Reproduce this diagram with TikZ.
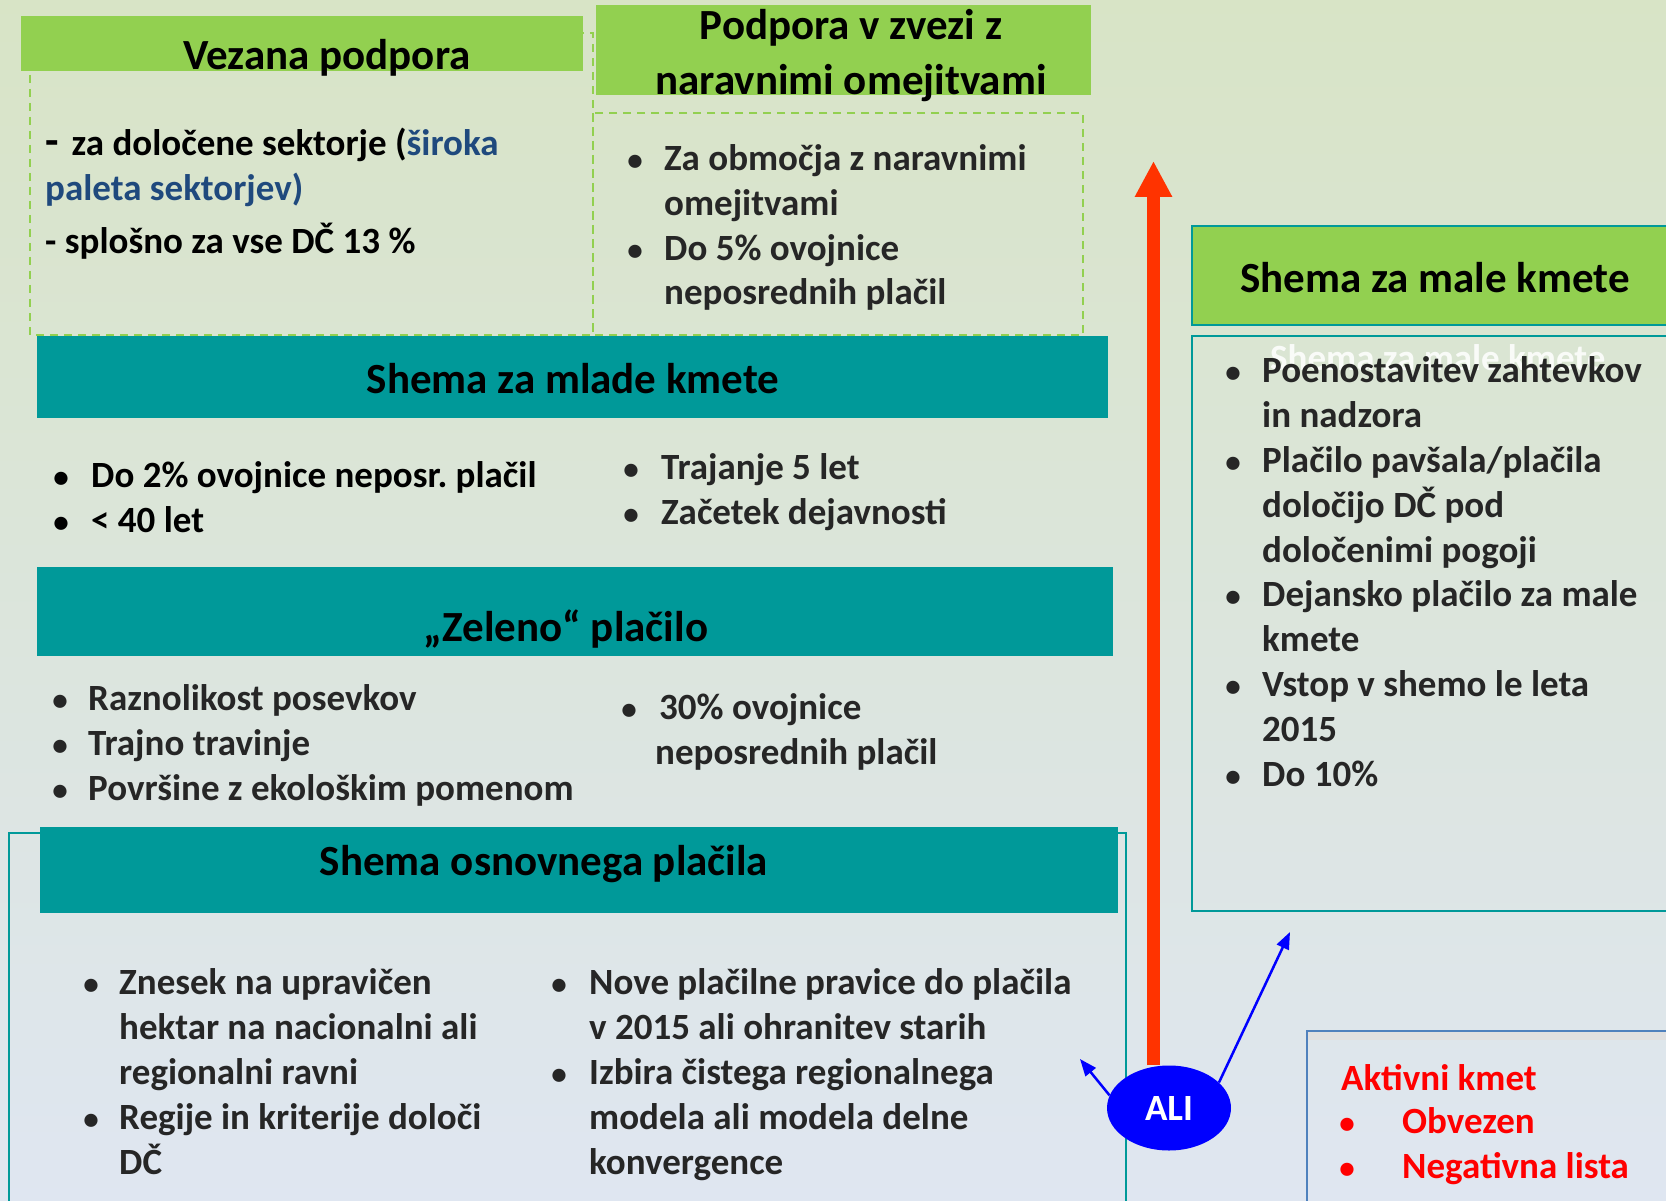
\documentclass[tikz,border=0pt]{standalone}
\usepackage{fontspec}
\setmainfont{Carlito}
\usetikzlibrary{arrows.meta,shapes.geometric}

\definecolor{barGreen}{RGB}{146,208,80}
\definecolor{barTeal}{RGB}{0,153,153}
\definecolor{arrowRed}{RGB}{255,51,0}
\definecolor{txtGray}{RGB}{38,38,38}
\definecolor{txtBlue}{RGB}{31,73,125}
\definecolor{bgTop}{RGB}{216,228,198}
\definecolor{bgBot}{RGB}{223,230,241}
\definecolor{aktBlue}{RGB}{79,129,189}

\newcommand\bodyfont{\fontsize{37}{44.8}\selectfont\bfseries}
\newcommand\headfont{\fontsize{43}{55}\selectfont\bfseries}
\newcommand\bul[1][29pt]{\makebox[0pt][c]{\fontsize{31}{31}\selectfont•}\hspace{#1}\ignorespaces}
\newcommand\cont[1][29pt]{\hspace*{#1}\ignorespaces}

\tikzset{
  body/.style={font=\bodyfont, text=txtGray, anchor=base west, align=left, inner sep=0pt, yshift=-3pt},
  head/.style={font=\headfont, text=black, anchor=base, align=center, inner sep=0pt, yshift=-3pt},
  dashbox/.style={draw=barGreen, line width=1.5pt, dash pattern=on 8pt off 6pt},
}

\begin{document}
\begin{tikzpicture}[x=1pt,y=-1pt]
  \useasboundingbox (0,0) rectangle (1666,1201);
  \clip (0,0) rectangle (1666,1201);
  \shade[top color=bgTop, bottom color=bgBot] (0,0) rectangle (1666,1201);

  % upper boxes (multi-line nodes sit on their last baseline)
  \draw[dashbox] (30,33) rectangle (593,335);
  \draw[dashbox] (593,113) rectangle (1083,335);
  \fill[barGreen] (21,16) rectangle (583,71);
  \fill[barGreen] (596,5) rectangle (1091,95);
  \node[head] (vezTitle) at (327,67) {Vezana podpora};
  \node[head] (podTitle) at (851,92) {Podpora v zvezi z\\naravnimi omejitvami};
  \node[body, text=black] (vezText) at (45,251)
    {{\fontsize{44}{44}\selectfont -}\hspace{13pt}za določene sektorje (\textcolor{txtBlue}{široka}\\
     \textcolor{txtBlue}{paleta sektorjev)}\\[9pt]
     - splošno za vse DČ 13 \%};
  \node[body] (podText) at (635,302)
    {\bul Za območja z naravnimi\\ \cont omejitvami\\
     \bul Do 5\% ovojnice\\ \cont neposrednih plačil};

  % teal bars
  \fill[barTeal] (37,336) rectangle (1108,418);
  \node[head] (mladeTitle) at (573,390) {Shema za mlade kmete};
  \node[body, text=black] (mladeL) at (61,529)
    {\bul[30pt] Do 2\% ovojnice neposr.\ plačil\\ \bul[30pt] < 40 let};
  \node[body] (mladeR) at (631,521)
    {\bul[30pt] Trajanje 5 let\\ \bul[30pt] Začetek dejavnosti};

  \fill[barTeal] (37,567) rectangle (1113,656);
  \node[head] (zelTitle) at (566,638) {„Zeleno“ plačilo};
  \node[body] (zelL) at (60,797)
    {\bul[28pt] Raznolikost posevkov\\ \bul[28pt] Trajno travinje\\
     \bul[28pt] Površine z ekološkim pomenom};
  \node[body] (zelR) at (629,761)
    {\bul[30pt] 30\% ovojnice\\ \cont[26pt] neposrednih plačil};

  \draw[barTeal, line width=1.5pt] (9,833) rectangle (1126,1215);
  \fill[barTeal] (40,827) rectangle (1118,913);
  \node[head] (osnTitle) at (544,872) {Shema osnovnega plačila};
  \node[body] (osnL) at (91,1171)
    {\bul[28pt] Znesek na upravičen\\ \cont[28pt] hektar na nacionalni ali\\
     \cont[28pt] regionalni ravni\\ \bul[28pt] Regije in kriterije določi\\
     \cont[28pt] DČ};
  \node[body] (osnR) at (559,1171)
    {\bul[30pt] Nove plačilne pravice do plačila\\ \cont[30pt] v 2015 ali ohranitev starih\\
     \bul[30pt] Izbira čistega regionalnega\\ \cont[30pt] modela ali modela delne\\
     \cont[30pt] konvergence};

  % small farmers
  \filldraw[fill=barGreen, draw=barTeal, line width=2pt] (1192,226) rectangle (1680,325);
  \node[head] (maleTitle) at (1435,290) {Shema za male kmete};
  \draw[barTeal, line width=2pt] (1192,336) rectangle (1680,911);
  \node[body, text=white, opacity=0.85] (ghost) at (1270,367) {Shema za male kmete};
  \node[body] (maleText) at (1233,783)
    {\bul Poenostavitev zahtevkov\\ \cont in nadzora\\
     \bul Plačilo pavšala/plačila\\ \cont določijo DČ pod\\ \cont določenimi pogoji\\
     \bul Dejansko plačilo za male\\ \cont kmete\\
     \bul Vstop v shemo le leta\\ \cont 2015\\
     \bul Do 10\%};

  % active farmer
  \fill[black!12] (1308,1032) rectangle (1680,1040);
  \draw[aktBlue, line width=2pt] (1307,1031) rectangle (1680,1215);
  \node[body, text=red] (aktTitle) at (1341,1087) {Aktivni kmet};
  \node[body, text=red] (aktList) at (1347,1175)
    {\bul[55pt] Obvezen\\ \bul[55pt] Negativna lista};

  % ALI and arrows
  \node[ellipse, fill=blue, minimum width=124pt, minimum height=85pt, inner sep=0pt,
        text=white, font=\bodyfont] (ALI) at (1169,1108) {ALI};
  \coordinate (redTip) at (1153.5,161);
  \coordinate (tipL) at (1080,1059);
  \coordinate (tipR) at (1290,932);
  \draw[arrowRed, line width=13pt, -{Triangle[width=35pt,length=36pt]}]
    (redTip |- ALI.north) -- (redTip);
  \draw[blue, line width=2.5pt, -{Triangle[width=13pt,length=17pt]}] (ALI.168) -- (tipL);
  \draw[blue, line width=2.5pt, -{Triangle[width=13pt,length=17pt]}] (ALI.27) -- (tipR);
\end{tikzpicture}
\end{document}
